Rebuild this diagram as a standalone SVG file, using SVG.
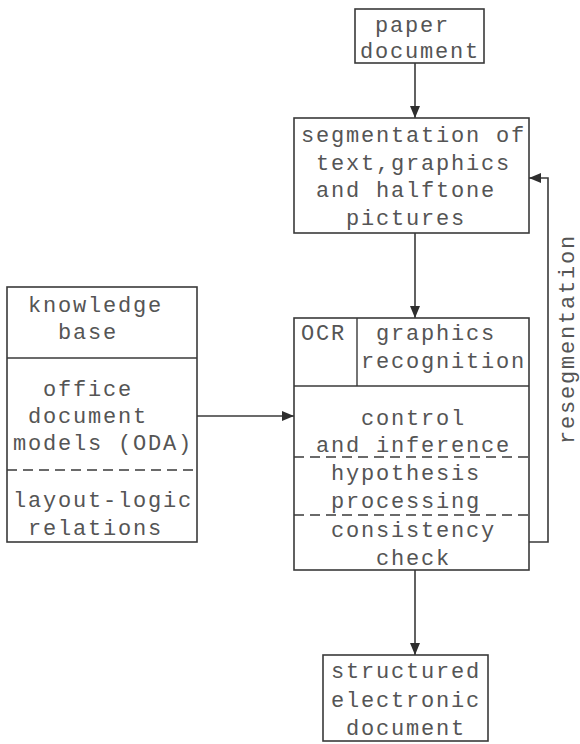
<svg xmlns="http://www.w3.org/2000/svg" width="580" height="744" viewBox="0 0 580 744">
  <style>
    .box { fill: none; stroke: #3a3a3a; stroke-width: 1.6; }
    .div { fill: none; stroke: #3a3a3a; stroke-width: 1.4; }
    .dash { fill: none; stroke: #3a3a3a; stroke-width: 1.4; stroke-dasharray: 10 6; }
    .wire { fill: none; stroke: #3a3a3a; stroke-width: 1.6; }
    text { font-family: "Liberation Mono", "Courier New", monospace; font-size: 22px; letter-spacing: 1.8px; fill: #555555; }
  </style>
  <defs>
    <marker id="head" viewBox="0 0 12 10" refX="12" refY="5" markerWidth="12" markerHeight="10" markerUnits="userSpaceOnUse" orient="auto">
      <path d="M0,0 L12,5 L0,10 Z" fill="#2e2e2e"/>
    </marker>
  </defs>
  <rect width="580" height="744" fill="#ffffff"/>

  <g id="connectors">
    <line class="wire" x1="415" y1="63" x2="415" y2="118" marker-end="url(#head)"/>
    <line class="wire" x1="415" y1="233" x2="415" y2="318" marker-end="url(#head)"/>
    <line class="wire" x1="197" y1="416" x2="294" y2="416" marker-end="url(#head)"/>
    <line class="wire" x1="415" y1="570" x2="415" y2="655" marker-end="url(#head)"/>
    <polyline class="wire" points="529,542 548,542 548,178 529,178" marker-end="url(#head)"/>
    <text transform="translate(574,444) rotate(-90)">resegmentation</text>
  </g>

  <g id="paper-document">
    <rect class="box" x="355" y="9" width="129" height="54"/>
    <text x="375" y="32">paper</text>
    <text x="360" y="58">document</text>
  </g>

  <g id="segmentation">
    <rect class="box" x="294" y="118" width="235" height="115"/>
    <text x="301" y="142">segmentation of</text>
    <text x="316" y="170">text,graphics</text>
    <text x="316" y="197">and halftone</text>
    <text x="346" y="225">pictures</text>
  </g>

  <g id="knowledge-base">
    <rect class="box" x="7" y="287" width="190" height="255"/>
    <line class="div" x1="7" y1="358" x2="197" y2="358"/>
    <line class="dash" x1="7" y1="470" x2="197" y2="470"/>
    <text x="28" y="312">knowledge</text>
    <text x="58" y="339">base</text>
    <text x="43" y="396">office</text>
    <text x="28" y="423">document</text>
    <text x="13" y="450">models (ODA)</text>
    <text x="13" y="507">layout-logic</text>
    <text x="28" y="535">relations</text>
  </g>

  <g id="recognition">
    <rect class="box" x="294" y="318" width="235" height="252"/>
    <line class="div" x1="357" y1="318" x2="357" y2="386"/>
    <line class="div" x1="294" y1="386" x2="529" y2="386"/>
    <line class="dash" x1="294" y1="457" x2="529" y2="457"/>
    <line class="dash" x1="294" y1="515" x2="529" y2="515"/>
    <text x="301" y="340">OCR</text>
    <text x="376" y="340">graphics</text>
    <text x="361" y="368">recognition</text>
    <text x="361" y="425">control</text>
    <text x="316" y="452">and inference</text>
    <text x="331" y="480">hypothesis</text>
    <text x="331" y="508">processing</text>
    <text x="331" y="537">consistency</text>
    <text x="376" y="565">check</text>
  </g>

  <g id="electronic-document">
    <rect class="box" x="323" y="655" width="165" height="86"/>
    <text x="331" y="678">structured</text>
    <text x="331" y="707">electronic</text>
    <text x="346" y="735">document</text>
  </g>
</svg>
